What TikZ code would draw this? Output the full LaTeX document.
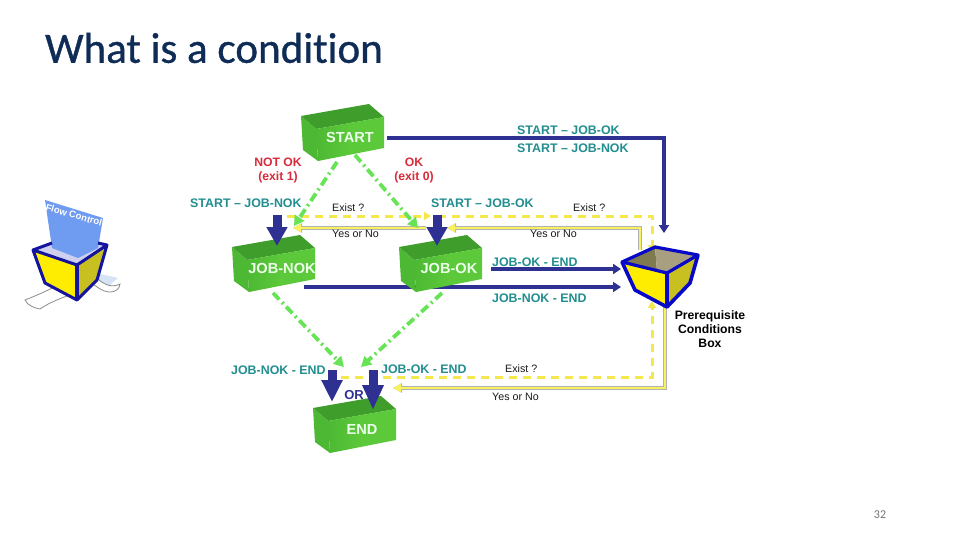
\documentclass[tikz,border=0pt]{standalone}
\usepackage{fontspec}
\setmainfont{Liberation Sans}
\newfontfamily\carlito[Ligatures=NoCommon,FakeBold=0.8]{Carlito}
\newfontfamily\carlitopage{Carlito}
\usetikzlibrary{arrows.meta}
\definecolor{navy}{HTML}{2E3192}
\definecolor{teal2}{HTML}{228E90}
\definecolor{red2}{HTML}{D92B3A}
\definecolor{grA}{HTML}{5CC93A}
\definecolor{grB}{HTML}{3F9E2B}
\definecolor{grC}{HTML}{4DB833}
\definecolor{grD}{HTML}{66E455}
\definecolor{yl}{HTML}{F8F25E}
\definecolor{yd}{HTML}{F4E84E}
\definecolor{boxblue}{HTML}{0808C8}
\definecolor{HTMLtitle}{HTML}{0E2C55}
\definecolor{HTMLinA}{HTML}{7F7A4F}
\definecolor{HTMLinB}{HTML}{A89F80}
\definecolor{HTMLrt}{HTML}{C8C020}
\definecolor{HTMLrib}{HTML}{D5E3F5}
\definecolor{HTMLpaper}{HTML}{6F9BF0}
\definecolor{HTMLicon}{HTML}{14149E}
\definecolor{HTMLlav}{HTML}{CFCFF0}
\tikzset{
 lbl/.style={font=\fontsize{12.4}{13}\selectfont\bfseries,text=teal2,inner sep=0pt,anchor=west},
 redl/.style={font=\fontsize{12.2}{14}\selectfont\bfseries,text=red2,inner sep=0pt,align=center},
 small/.style={font=\fontsize{10.7}{12}\selectfont,text=black!90,inner sep=0pt,anchor=west},
 boxl/.style={font=\fontsize{14.6}{15}\selectfont\bfseries,text=white!92!green,inner sep=0pt},
 navyline/.style={draw=navy,line width=3.1pt,-{Triangle[width=10pt,length=8pt]}},
 bigarrow/.style={draw=navy,line width=9pt,-{Triangle[width=20pt,length=#1]}},
 gdash/.style={draw=grD,line width=3.8pt,dash pattern=on 9pt off 4pt on 2pt off 4pt,-{Triangle[width=11pt,length=10pt]}},
 ydash/.style={draw=yd,line width=3pt,dash pattern=on 8pt off 6pt,-{Triangle[width=8pt,length=7pt]}},
 ysolid/.style={draw=yl,line width=2.6pt,-{Triangle[width=8pt,length=8pt]},preaction={draw=black!30,line width=3.6pt,-{Triangle[width=9pt,length=9pt]}}},
}
\newcommand{\gbox}[2]{%
 \begin{scope}[shift={(#1,#2)}]
  \fill[grB] (0,0) -- (68,-12) -- (83,1) -- (15,13) -- cycle;
  \fill[grC] (0,0) -- (15,13) -- (17,45) -- (2,34) -- cycle;
  \shade[left color=grC,right color=grA,middle color=grA] (15,13) -- (83,1) -- (83,32) -- (17,45) -- cycle;
 \end{scope}}
\begin{document}
\begin{tikzpicture}[x=1pt,y=-1pt]
\useasboundingbox (0,0) rectangle (960,540);
\fill[white] (0,0) rectangle (960,540);

\node[font=\carlito\fontsize{43.1}{44}\selectfont,text=HTMLtitle,inner sep=0pt,anchor=west] (title) at (45,48) {What is a condition};
\node[font=\carlitopage\fontsize{12}{14}\selectfont,text=black!55,inner sep=0pt] (page) at (880,515) {32};

% coordinates
\coordinate (s1) at (387,138); \coordinate (s2) at (664,138); \coordinate (s3) at (664,233);
\coordinate (ok1) at (491,269); \coordinate (ok2) at (621,269);
\coordinate (nok1) at (304,287); \coordinate (nok2) at (621,287);
\coordinate (gs1) at (337,162); \coordinate (gs2) at (294,226);
\coordinate (gs3) at (355,155); \coordinate (gs4) at (418,228);
\coordinate (gn1) at (273,293); \coordinate (gn2) at (344,367);
\coordinate (gk1) at (442,293); \coordinate (gk2) at (361,367);
\coordinate (yt1) at (287,216); \coordinate (yt2) at (431,216);
\coordinate (yt3) at (438,216); \coordinate (yt4) at (652,216); \coordinate (yt5) at (652,252);
\coordinate (ys1) at (640,250); \coordinate (ys2) at (640,228); \coordinate (ys3) at (447,228);
\coordinate (ys4) at (426,228); \coordinate (ys5) at (293,228);
\coordinate (yb1) at (341,377); \coordinate (yb2) at (652,377); \coordinate (yb3) at (652,301);
\coordinate (yc1) at (665,305); \coordinate (yc2) at (665,388); \coordinate (yc3) at (393,388);

% connectors behind boxes
\draw[navyline] (s1) -- (s2) -- (s3);
\draw[navyline] (ok1) -- (ok2);
\draw[navyline] (nok1) -- (nok2);
\draw[ydash] (yt1) -- (yt2);
\draw[ydash] (yt3) -- (yt4) -- (yt5);
\draw[ydash] (yb1) -- (yb2) -- (yb3);
\draw[ysolid] (ys1) -- (ys2) -- (ys3);
\draw[ysolid] (ys4) -- (ys5);
\draw[ysolid] (yc1) -- (yc2) -- (yc3);
\draw[gdash] (gs1) -- (gs2);
\draw[gdash] (gs3) -- (gs4);
\draw[gdash] (gn1) -- (gn2);
\draw[gdash] (gk1) -- (gk2);

% boxes
\gbox{301}{116}
\node[boxl] (start) at (350,137) {START};
\gbox{232}{247}
\node[boxl] (jobnok) at (282,268) {JOB-NOK};
\gbox{399}{247}
\node[boxl] (jobok) at (449,268) {JOB-OK};
\gbox{313}{408}
\node[boxl] (endb) at (362,429) {END};

% big arrows
\coordinate (a1) at (277,215); \coordinate (a2) at (277,246);
\coordinate (b1) at (437,215); \coordinate (b2) at (437,246);
\coordinate (c1) at (332,370); \coordinate (c2) at (332,402);
\coordinate (d1) at (373,370); \coordinate (d2) at (373,410);
\draw[bigarrow=19pt] (a1) -- (a2);
\draw[bigarrow=19pt] (b1) -- (b2);
\draw[bigarrow=22pt] (c1) -- (c2);
\draw[bigarrow=25pt] (d1) -- (d2);

% prerequisite box
\fill[HTMLinA] (622,262) -- (655,247) -- (657,271) -- (667,273) -- cycle;
\fill[HTMLinB] (655,247) -- (698,255) -- (667,273) -- (657,271) -- cycle;
\fill[yellow!95!orange] (622,262) -- (667,273) -- (667,307) -- (635,290) -- cycle;
\fill[HTMLrt] (667,273) -- (698,255) -- (690,283) -- (667,307) -- cycle;
\draw[boxblue,line width=3.2pt,line join=round] (622,262) -- (655,247) -- (698,255) -- (667,273) -- cycle;
\draw[boxblue,line width=3.6pt,line join=round] (622,262) -- (635,290) -- (667,307) -- (690,283) -- (698,255);
\draw[boxblue,line width=4pt] (667,273) -- (667,307);

% flow control icon
\fill[HTMLrib] (92,272) -- (118,278) -- (104,290) -- cycle;
\draw[black!45,fill=white,line width=.8pt] (60,284) .. controls (45,292) and (35,296) .. (25,300) .. controls (28,306) and (35,308) .. (40,309) .. controls (50,302) and (62,298) .. (72,294);
\draw[black!45,fill=white,line width=.8pt] (92,283) .. controls (100,290) and (108,294) .. (115,291) .. controls (119,289) and (120,286) .. (120,284) .. controls (112,288) and (104,285) .. (97,278);
\fill[HTMLlav] (33,250) -- (70,237) -- (107,245) -- (77,265) -- cycle;
\fill[HTMLpaper] (45,200) -- (103,218) -- (98,248) -- (78,258) -- (52,248) -- cycle;
\fill[yellow!95!orange] (33,250) -- (77,265) -- (77,300) -- (45,283) -- cycle;
\fill[HTMLrt] (77,265) -- (107,245) -- (97,280) -- (77,300) -- cycle;
\draw[HTMLicon,line width=3pt,line join=round] (33,250) -- (52,243);
\draw[HTMLicon,line width=3pt,line join=round] (98,243) -- (107,245) -- (77,265) -- (33,250) -- (45,283) -- (77,300) -- (97,280) -- (107,245);
\draw[HTMLicon,line width=3.4pt] (77,265) -- (77,300);
\node[font=\fontsize{9.5}{10}\selectfont\bfseries,text=white,rotate=-16,inner sep=0pt] (flow) at (74,215) {Flow Control};

% labels
\node[redl] (notok) at (278,171) {NOT OK\\(exit 1)};
\node[redl] (okl) at (414,171) {OK\\(exit 0)};
\node[lbl] (l1) at (517,130) {START – JOB-OK};
\node[lbl] (l2) at (517,148) {START – JOB-NOK};
\node[lbl] (l3) at (190,203) {START – JOB-NOK};
\node[lbl] (l4) at (431,203) {START – JOB-OK};
\node[lbl] (l5) at (492,262) {JOB-OK - END};
\node[lbl] (l6) at (492,298) {JOB-NOK - END};
\node[lbl] (l7) at (231,370) {JOB-NOK - END};
\node[lbl] (l8) at (381,369) {JOB-OK - END};
\node[small] (e1) at (332,208) {Exist ?};
\node[small] (e2) at (573,208) {Exist ?};
\node[small] (e3) at (505,369) {Exist ?};
\node[small] (y1) at (332,234) {Yes or No};
\node[small] (y2) at (530,234) {Yes or No};
\node[small] (y3) at (492,397) {Yes or No};
\node[font=\fontsize{13}{14}\selectfont\bfseries,text=navy,inner sep=0pt] (orl) at (354,395) {OR};
\node[font=\fontsize{12.2}{14}\selectfont\bfseries,text=black,inner sep=0pt,align=center] (pc) at (710,329) {Prerequisite\\Conditions\\Box};
\end{tikzpicture}
\end{document}
